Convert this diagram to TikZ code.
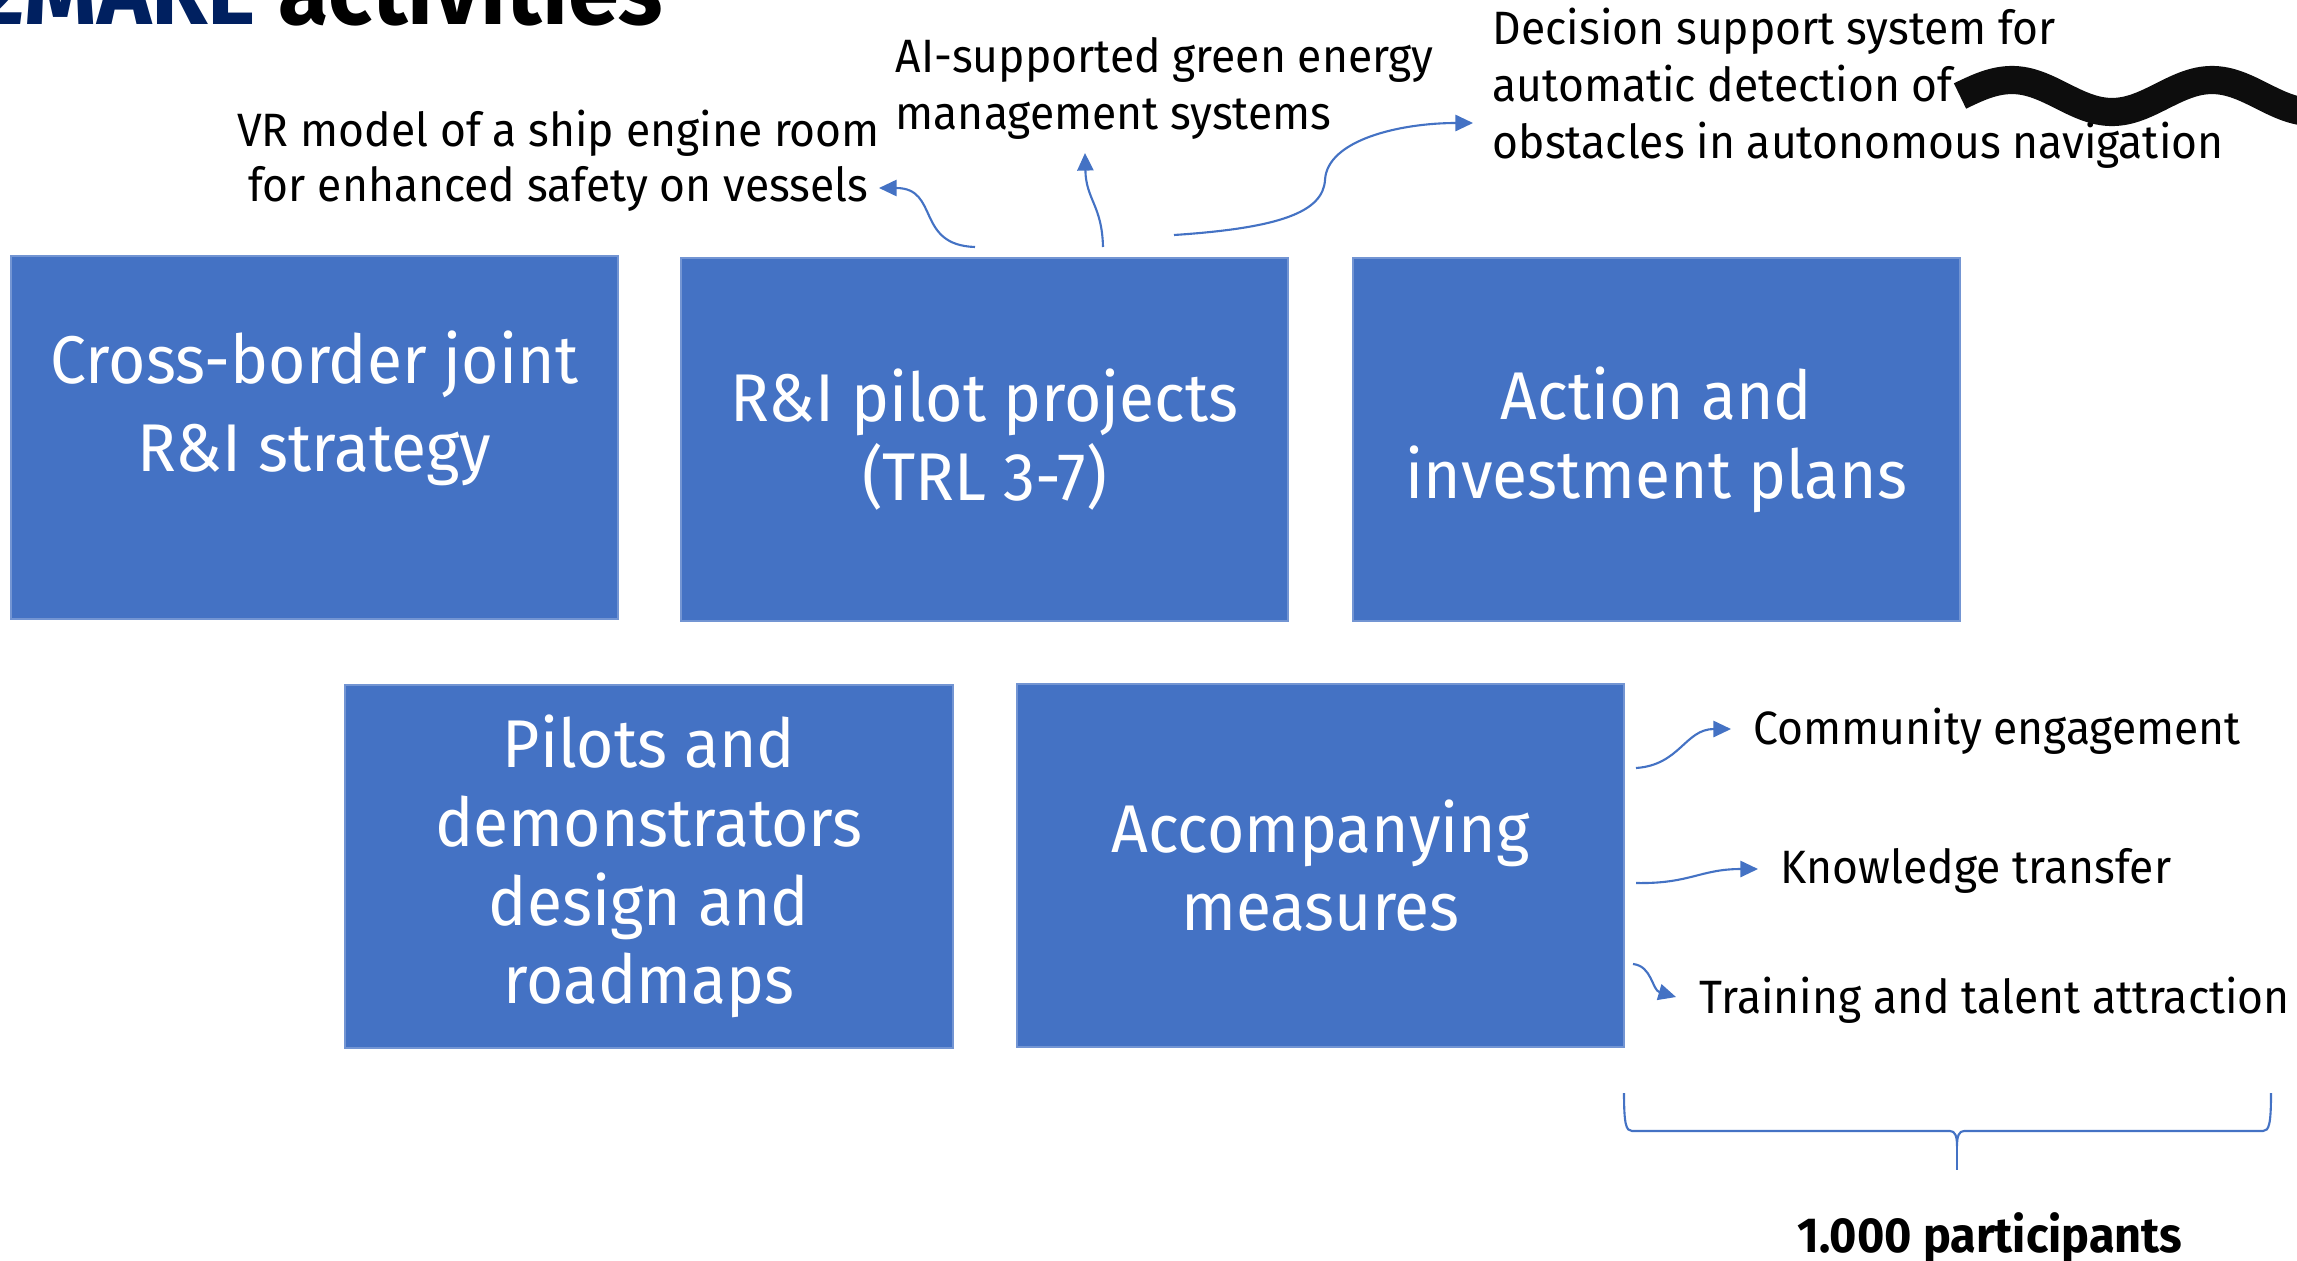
\documentclass[tikz,border=0pt]{standalone}
\usepackage{fontspec}
\setmainfont[FakeStretch=0.95]{Fira Sans}
\usetikzlibrary{arrows.meta, positioning}
\definecolor{boxblue}{RGB}{68,114,196}
\definecolor{navyblue}{RGB}{0,32,96}
\definecolor{inkblack}{RGB}{13,13,13}

\begin{document}
\begin{tikzpicture}[
    x=0.01cm, y=-0.01cm,
    box/.style={rectangle, fill=boxblue, draw=boxblue!75!white, line width=0.5pt,
        minimum width=6.07cm, minimum height=3.63cm, inner sep=0pt},
    boxtext/.style={text=white, align=center, inner sep=0pt, font=\fontsize{19.2}{22.4}\selectfont},
    note/.style={inner sep=0pt, font=\fontsize{13.3}{15.6}\selectfont},
    link/.style={draw=boxblue, line width=0.6pt, -{Triangle[length=5pt, width=4.6pt]}}
]
    % Page frame
    \useasboundingbox (0,0) rectangle (2297,1260);
    \clip (0,0) rectangle (2297,1260);
    \fill[white] (0,0) rectangle (2297,1260);

    % Title (cut by the top edge)
    \node[inner sep=0pt, anchor=base east, font=\fontsize{27.5}{33}\selectfont\bfseries] (title) at (664,24)
        {\textcolor{navyblue}{2MARE} activities};

    % Top row
    \node[box] (strategy) at (314.5,437.5) {};
    \node[boxtext, font=\fontsize{19.2}{25}\selectfont] (strategytxt) at (314.5,408) {Cross-border joint\\R\&I strategy};
    \node[box, boxtext] (pilots) at (984.5,439.5) {R\&I pilot projects\\(TRL 3-7)};
    \node[box, boxtext] (plans) at (1656.5,439.5) {Action and\\investment plans};

    % Bottom row
    \node[box, boxtext] (demos) at (649,866.5) {Pilots and\\demonstrators\\design and\\roadmaps};
    \node[box, boxtext] (measures) at (1320.5,865.5) {Accompanying\\measures};

    % Pilot project examples
    \node[note, align=center] (vr) at (558.5,161)
        {VR model of a ship engine room\\for enhanced safety on vessels};
    \node[note, align=left, anchor=west, font=\fontsize{13.3}{16.2}\selectfont] (ai) at (895,88)
        {AI-supported green energy\\management systems};
    \node[note, align=left, anchor=west, font=\fontsize{13.3}{16.2}\selectfont] (dss) at (1492,88)
        {Decision support system for\\automatic detection of\\obstacles in autonomous navigation};

    \coordinate (vrfrom) at (975,247);
    \coordinate (vrto) at (879,188);
    \coordinate (aifrom) at (1103,247);
    \coordinate (aito) at (1085,153);
    \coordinate (dssfrom) at (1174,235);
    \coordinate (dssto) at (1473,123);
    \draw[link] (vrfrom) .. controls (915,245) and (940,188) .. (vrto);
    \draw[link] (aifrom) .. controls (1102,205) and (1086,200) .. (aito);
    \draw[link] (dssfrom) .. controls (1280,228) and (1323,212) .. (1325,180)
        .. controls (1327,140) and (1400,123) .. (dssto);

    % Accompanying measures
    \node[note, anchor=base west] (community) at (1753,744) {Community engagement};
    \node[note, anchor=base west] (knowledge) at (1780,883) {Knowledge transfer};
    \node[note, anchor=base west] (training) at (1699,1013) {Training and talent attraction};

    \coordinate (comfrom) at (1636,768);
    \coordinate (comto) at (1731,729);
    \coordinate (knowfrom) at (1636,883);
    \coordinate (knowto) at (1758,869);
    \coordinate (trainfrom) at (1633,964);
    \coordinate (trainto) at (1676,997);
    \draw[link] (comfrom) .. controls (1680,765) and (1685,729) .. (comto);
    \draw[link] (knowfrom) .. controls (1690,884) and (1700,869) .. (knowto);
    \draw[link] (trainfrom) .. controls (1652,966) and (1652,990) .. (trainto);

    % Brace
    \draw[boxblue, line width=0.6pt] (1624,1093) .. controls (1624,1124) and (1626,1131) .. (1632,1131)
        -- (1950,1131) .. controls (1955,1131) and (1957,1136) .. (1957,1146)
        .. controls (1957,1136) and (1959,1131) .. (1964,1131) -- (2263,1131)
        .. controls (2269,1131) and (2271,1124) .. (2271,1093);
    \coordinate (bracetip) at (1957,1170);
    \draw[boxblue, line width=0.6pt] (1957,1146) -- (bracetip);
    \node[note, anchor=base, font=\fontsize{14}{16}\selectfont\bfseries] (participants) at (1990,1252) {1.000 participants};

    % Wave
    \draw[inkblack, line width=8pt] (1960,96) sin (2012,80) cos (2062,96) sin (2112,112)
        cos (2162,96) sin (2212,80) cos (2262,96) sin (2312,112);
\end{tikzpicture}
\end{document}
